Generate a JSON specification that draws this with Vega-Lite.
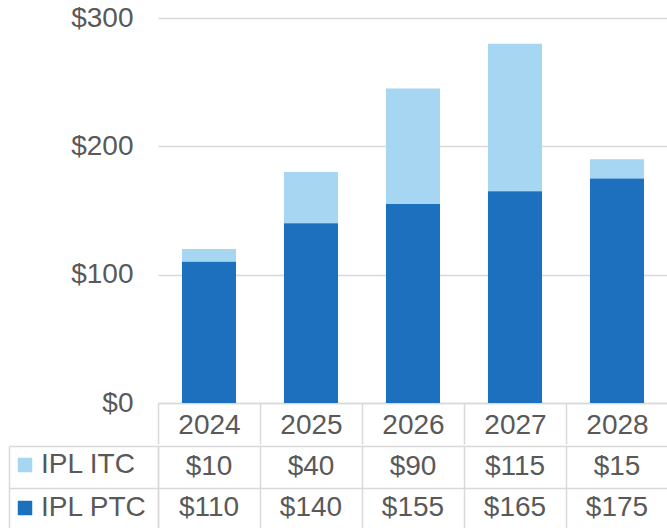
{
  "$schema": "https://vega.github.io/schema/vega-lite/v6.json",
  "padding": {"left": 8, "top": 4, "right": 0, "bottom": 0},
  "background": "white",
  "config": {"font": "Liberation Sans", "view": {"stroke": null}},
  "spacing": 0,
  "data": {"values": [
    {"year": "2024", "series": "IPL ITC", "value": 10},
    {"year": "2025", "series": "IPL ITC", "value": 40},
    {"year": "2026", "series": "IPL ITC", "value": 90},
    {"year": "2027", "series": "IPL ITC", "value": 115},
    {"year": "2028", "series": "IPL ITC", "value": 15},
    {"year": "2024", "series": "IPL PTC", "value": 110},
    {"year": "2025", "series": "IPL PTC", "value": 140},
    {"year": "2026", "series": "IPL PTC", "value": 155},
    {"year": "2027", "series": "IPL PTC", "value": 165},
    {"year": "2028", "series": "IPL PTC", "value": 175}
  ]},
  "resolve": {"scale": {"y": "independent"}},
  "vconcat": [
    {
      "width": 510,
      "height": 385,
      "mark": {"type": "bar", "width": {"band": 0.53}},
      "encoding": {
        "x": {"field": "year", "type": "ordinal", "scale": {"paddingInner": 0, "paddingOuter": 0},
          "axis": {"title": null, "labelAngle": 0, "labelFontSize": 28, "labelColor": "#595959", "tickBand": "extent", "tickSize": 41, "tickColor": "#D9D9D9", "tickWidth": 1.5, "domainColor": "#D9D9D9", "domainWidth": 1.5, "labelPadding": -33}},
        "y": {"field": "value", "type": "quantitative", "scale": {"domain": [0, 300]},
          "axis": {"title": null, "values": [0, 100, 200, 300], "format": "$,.0f", "labelFontSize": 28, "labelColor": "#595959", "domain": false, "ticks": false, "labelPadding": 25, "gridColor": "#D9D9D9", "gridWidth": 1.5}},
        "color": {"field": "series", "type": "nominal",
          "scale": {"domain": ["IPL ITC", "IPL PTC"], "range": ["#A6D6F2", "#1C70BD"]},
          "legend": {"title": null, "orient": "none", "legendX": -147, "legendY": 433, "padding": 0, "symbolType": "square", "symbolSize": 210, "symbolStrokeWidth": 0, "symbolOpacity": 1, "labelFontSize": 28, "labelColor": "#595959", "labelOffset": 2, "rowPadding": 15, "labelLimit": 300}},
        "order": {"field": "series", "sort": "descending"}
      }
    },
    {
      "width": 510,
      "height": 83,
      "resolve": {"axis": {"y": "independent"}},
      "layer": [
        {
          "mark": {"type": "text", "fontSize": 28, "color": "#595959"},
          "encoding": {
            "x": {"field": "year", "type": "ordinal", "scale": {"paddingInner": 0, "paddingOuter": 0},
              "axis": {"title": null, "labels": false, "ticks": false, "domain": false, "grid": true, "tickBand": "extent", "gridColor": "#D9D9D9", "gridWidth": 1.5}},
            "y": {"field": "series", "type": "nominal", "scale": {"domain": ["IPL ITC", "IPL PTC"], "paddingInner": 0, "paddingOuter": 0},
              "axis": {"title": null, "labels": false, "tickBand": "extent", "tickSize": 149, "tickColor": "#D9D9D9", "tickWidth": 1.5, "grid": true, "gridColor": "#D9D9D9", "gridWidth": 1.5, "domainColor": "#D9D9D9", "domainWidth": 1.5}},
            "text": {"field": "value", "type": "quantitative", "format": "$,.0f"}
          }
        },
        {
          "mark": {"type": "rule", "opacity": 0},
          "encoding": {
            "y": {"field": "series", "type": "nominal",
              "axis": {"title": null, "orient": "left", "offset": 149, "labels": false, "ticks": false, "grid": false, "domainColor": "#D9D9D9", "domainWidth": 1.5}}
          }
        }
      ]
    }
  ]
}
